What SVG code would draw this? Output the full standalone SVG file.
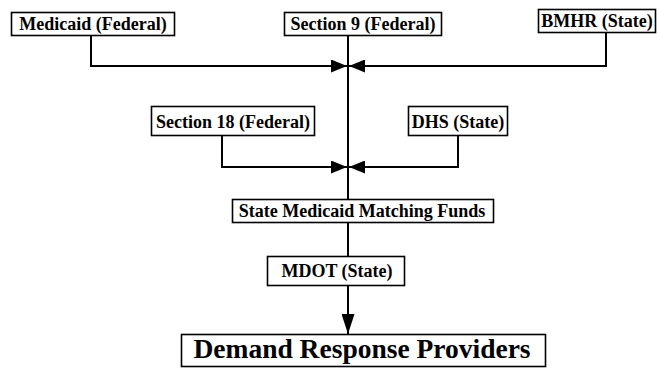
<svg xmlns="http://www.w3.org/2000/svg" width="657" height="368" viewBox="0 0 657 368">
  <style>
    .box { fill: #ffffff; stroke: #000000; stroke-width: 1.6; }
    .lbl { font-family: "Liberation Serif", "Times New Roman", serif; font-weight: bold; font-size: 18px; fill: #000000; text-anchor: middle; }
    .big { font-size: 27.5px; }
    .con { fill: none; stroke: #000000; stroke-width: 2; }
  </style>
  <defs>
    <marker id="ah" markerUnits="userSpaceOnUse" markerWidth="16" markerHeight="13" refX="16" refY="6.5" orient="auto">
      <path d="M0,0 L16,6.5 L0,13 Z" fill="#000000"/>
    </marker>
    <marker id="ahd" markerUnits="userSpaceOnUse" markerWidth="20" markerHeight="13" refX="20" refY="6.5" orient="auto">
      <path d="M0,0 L20,6.5 L0,13 Z" fill="#000000"/>
    </marker>
  </defs>
  <rect width="657" height="368" fill="#ffffff"/>

  <g id="connectors">
    <path class="con" d="M91 35 V66 H347" marker-end="url(#ah)"/>
    <path class="con" d="M606 33 V66 H349" marker-end="url(#ah)"/>
    <path class="con" d="M222 135 V167 H347" marker-end="url(#ah)"/>
    <path class="con" d="M458 135 V167 H349" marker-end="url(#ah)"/>
    <path class="con" d="M348 35 V199"/>
    <path class="con" d="M348 222 V256"/>
    <path class="con" d="M348 285 V334" marker-end="url(#ahd)"/>
  </g>

  <g id="medicaid">
    <rect class="box" x="11.5" y="12.5" width="163" height="23"/>
    <text class="lbl" x="93" y="30">Medicaid (Federal)</text>
  </g>
  <g id="section9">
    <rect class="box" x="284.5" y="12.5" width="157" height="23"/>
    <text class="lbl" x="363" y="30">Section 9 (Federal)</text>
  </g>
  <g id="bmhr">
    <rect class="box" x="538.5" y="9.5" width="117" height="23"/>
    <text class="lbl" x="597" y="27">BMHR (State)</text>
  </g>
  <g id="section18">
    <rect class="box" x="151.5" y="106.5" width="163" height="29"/>
    <text class="lbl" x="233" y="128">Section 18 (Federal)</text>
  </g>
  <g id="dhs">
    <rect class="box" x="408.5" y="106.5" width="99" height="29"/>
    <text class="lbl" x="458" y="128">DHS (State)</text>
  </g>
  <g id="state-medicaid">
    <rect class="box" x="232.5" y="199.5" width="261" height="23"/>
    <text class="lbl" x="362" y="217">State Medicaid Matching Funds</text>
  </g>
  <g id="mdot">
    <rect class="box" x="267.5" y="256.5" width="137" height="29"/>
    <text class="lbl" x="337" y="277">MDOT (State)</text>
  </g>
  <g id="demand">
    <rect class="box" x="181.5" y="334.5" width="364" height="32"/>
    <text class="lbl big" x="362" y="358">Demand Response Providers</text>
  </g>
</svg>
